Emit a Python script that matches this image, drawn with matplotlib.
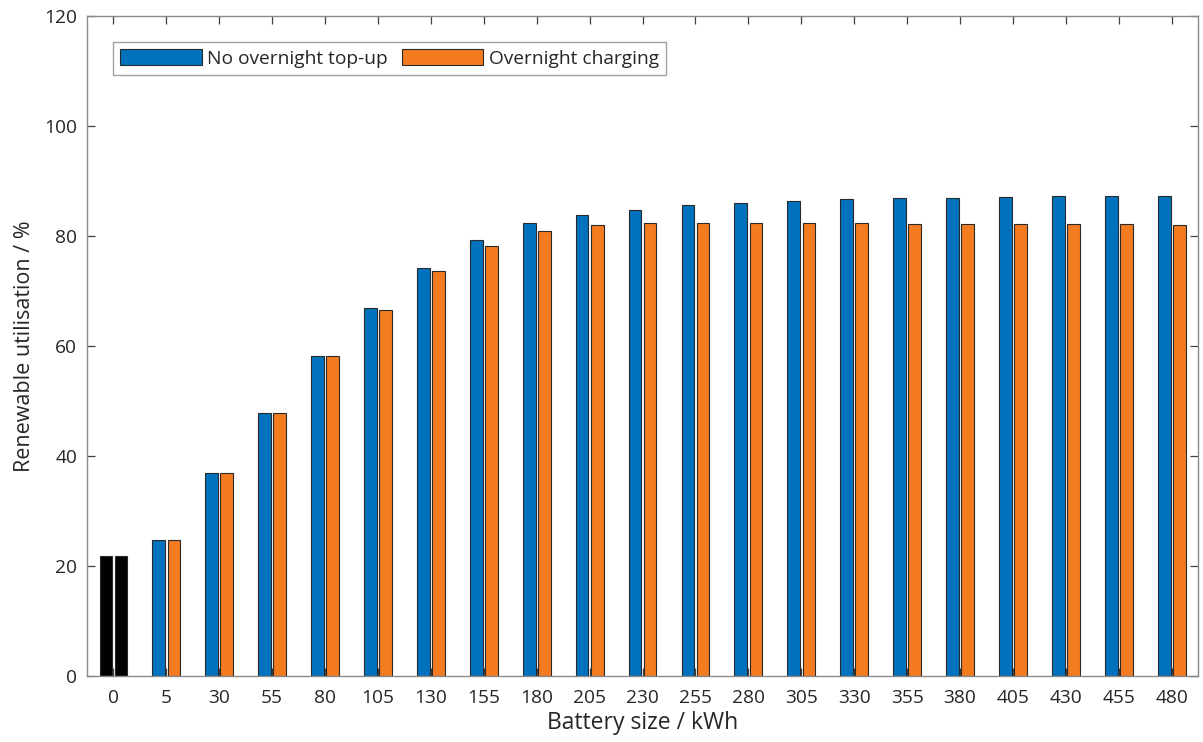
import matplotlib
matplotlib.use("Agg")
import matplotlib.pyplot as plt
from matplotlib.patches import Patch
import numpy as np

plt.rcParams['font.family'] = ['Open Sans', 'DejaVu Sans']

battery_sizes = ["0", "5", "30", "55", "80", "105", "130", "155", "180", "205", "230",
                 "255", "280", "305", "330", "355", "380", "405", "430", "455", "480"]
no_topup = [21.8, 24.7, 36.9, 47.9, 58.2, 67.0, 74.1, 79.2, 82.3, 83.9, 84.8,
            85.6, 86.0, 86.4, 86.7, 86.9, 87.0, 87.1, 87.3, 87.3, 87.3]
overnight = [21.8, 24.7, 36.9, 47.9, 58.1, 66.6, 73.7, 78.2, 80.9, 82.0, 82.3,
             82.3, 82.3, 82.3, 82.3, 82.2, 82.2, 82.2, 82.2, 82.2, 82.0]

blue = "#0072BD"
orange = "#F47B20"
text_col = "#262626"
axis_col = "#8a8a8a"
edge_col = "#2a2a2a"

fig = plt.figure(figsize=(12.03, 7.42), dpi=100)
ax = fig.add_axes([0.0723, 0.0889, 0.9237, 0.8895])

x = np.arange(len(battery_sizes))
w = 0.24
off = 0.143
# the zero-battery baseline is drawn in black for both scenarios
c1 = ["black"] + [blue] * (len(x) - 1)
c2 = ["black"] + [orange] * (len(x) - 1)
ax.bar(x - off, no_topup, w, color=c1, edgecolor=edge_col, linewidth=0.8, zorder=2)
ax.bar(x + off, overnight, w, color=c2, edgecolor=edge_col, linewidth=0.8, zorder=2)

ax.set_xlim(-0.5, len(x) - 0.5)
ax.set_ylim(0, 120)
ax.set_yticks(np.arange(0, 121, 20))
ax.set_xticks(x)
ax.set_xticklabels(battery_sizes)

for s in ax.spines.values():
    s.set_color(axis_col)
    s.set_linewidth(1.0)
ax.tick_params(axis="both", direction="in", top=True, right=True, length=6,
               width=0.9, color="#404040", labelsize=13.8, labelcolor=text_col)
ax.tick_params(axis="x", pad=9.5)
ax.tick_params(axis="y", pad=7)

ax.set_xlabel("Battery size / kWh", fontsize=16.5, color=text_col, labelpad=3)
ax.set_ylabel("Renewable utilisation / %", fontsize=15.5, color=text_col, labelpad=7)

handles = [Patch(facecolor=blue, edgecolor=edge_col, linewidth=0.8),
           Patch(facecolor=orange, edgecolor=edge_col, linewidth=0.8)]
leg = ax.legend(handles, ["No overnight top-up", "Overnight charging"], ncol=2,
                loc="upper left", bbox_to_anchor=(0.0234, 0.961), fontsize=13.8,
                frameon=True, fancybox=False, edgecolor=axis_col, handlelength=4.25,
                handleheight=0.94, handletextpad=0.3, columnspacing=0.7,
                borderpad=0.38, borderaxespad=0)
leg.get_frame().set_linewidth(1.0)
for t in leg.get_texts():
    t.set_color(text_col)

fig.savefig("out.png", dpi=100)
